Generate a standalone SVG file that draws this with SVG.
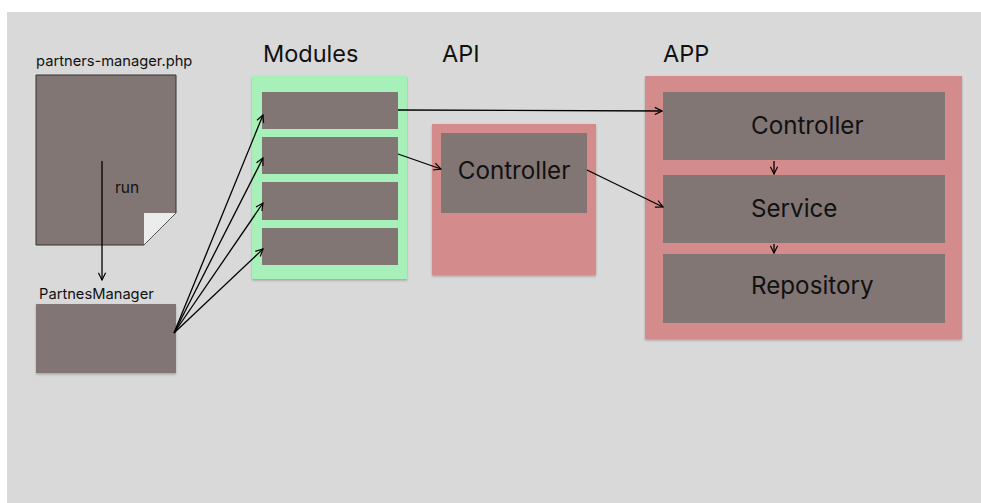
<svg xmlns="http://www.w3.org/2000/svg" width="981" height="503" viewBox="0 0 981 503">
<defs>
<style>
.bg{fill:#d9d9d9}
.box{fill:#817674}
.pink{fill:#d38c8b}
.green{fill:#a8f0ba}
.lbl{font-family:Inter,"Liberation Sans",sans-serif;fill:#111}
.small{font-size:14.7px}
.title{font-size:23.5px}
.big{font-size:24.2px}
.con{fill:none;stroke:#000;stroke-width:1.3}
</style>
<marker id="ah" viewBox="0 0 10 10" refX="9" refY="5" markerWidth="9" markerHeight="9" markerUnits="userSpaceOnUse" orient="auto">
<path d="M1,1 L9,5 L1,9" fill="none" stroke="#000" stroke-width="1.3"/>
</marker>
<filter id="sh" x="-5%" y="-5%" width="112%" height="112%">
<feDropShadow dx="0" dy="1.5" stdDeviation="1.2" flood-color="#000" flood-opacity="0.25"/>
</filter>
</defs>
<rect x="0" y="0" width="981" height="503" fill="#ffffff"/>
<rect class="bg" x="7" y="12" width="974" height="491"/>

<g id="partners-manager-php">
<text class="lbl small" x="36" y="66">partners-manager.php</text>
<path d="M36,75 H176 V213 L144,245 H36 Z" fill="#817674" stroke="#333" stroke-width="1"/>
<path d="M144,213 H176 L144,245 Z" fill="#ececec"/>
<path d="M176,213 L144,245" stroke="#555" stroke-width="1"/>
<text class="lbl" x="115" y="193" font-size="15.5">run</text>
</g>

<g id="partnes-manager">
<text class="lbl small" x="39" y="299">PartnesManager</text>
<rect class="box" x="36" y="304" width="140" height="69" filter="url(#sh)"/>
</g>

<g id="modules">
<text class="lbl title" x="263" y="62">Modules</text>
<rect class="green" x="252" y="76" width="155" height="203" filter="url(#sh)"/>
<rect class="box" x="262" y="92" width="136" height="37"/>
<rect class="box" x="262" y="137" width="136" height="37"/>
<rect class="box" x="262" y="182" width="136" height="38"/>
<rect class="box" x="262" y="228" width="136" height="37"/>
</g>

<g id="api">
<text class="lbl title" x="442" y="62">API</text>
<rect class="pink" x="432" y="124" width="164" height="151" filter="url(#sh)"/>
<rect class="box" x="441" y="133" width="146" height="80"/>
<text class="lbl big" x="514" y="179" text-anchor="middle">Controller</text>
</g>

<g id="app">
<text class="lbl title" x="663" y="62">APP</text>
<rect class="pink" x="645" y="76" width="317" height="263" filter="url(#sh)"/>
<rect class="box" x="663" y="92" width="282" height="68"/>
<rect class="box" x="663" y="175" width="282" height="68"/>
<rect class="box" x="663" y="254" width="282" height="69"/>
<text class="lbl big" x="751" y="134">Controller</text>
<text class="lbl big" x="751" y="217">Service</text>
<text class="lbl big" x="751" y="294">Repository</text>
</g>

<g id="connectors">
<line class="con" x1="102" y1="161" x2="102" y2="280" marker-end="url(#ah)"/>
<line class="con" x1="174" y1="333" x2="263" y2="115" marker-end="url(#ah)"/>
<line class="con" x1="174" y1="333" x2="263" y2="158" marker-end="url(#ah)"/>
<line class="con" x1="174" y1="333" x2="263" y2="203" marker-end="url(#ah)"/>
<line class="con" x1="174" y1="333" x2="263" y2="249" marker-end="url(#ah)"/>
<line class="con" x1="398" y1="110" x2="662" y2="111" marker-end="url(#ah)"/>
<line class="con" x1="398" y1="154" x2="441" y2="169" marker-end="url(#ah)"/>
<line class="con" x1="587" y1="170" x2="663" y2="207" marker-end="url(#ah)"/>
<line class="con" x1="774" y1="161" x2="774" y2="174" marker-end="url(#ah)"/>
<line class="con" x1="774" y1="244" x2="774" y2="253" marker-end="url(#ah)"/>
</g>
</svg>
